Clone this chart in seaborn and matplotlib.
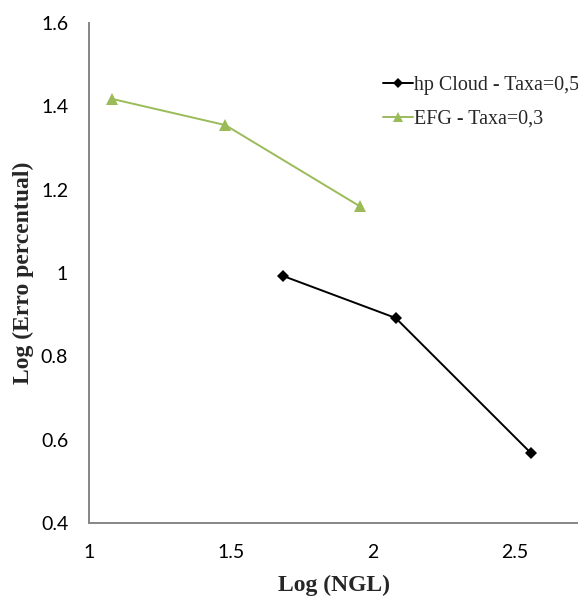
import matplotlib
matplotlib.use("Agg")
import matplotlib.pyplot as plt
import seaborn as sns
import pandas as pd

# Convergence data (log-log)
hp_log_ngl = [1.683, 2.080, 2.556]
hp_log_err = [0.993, 0.892, 0.568]
efg_log_ngl = [1.080, 1.480, 1.954]
efg_log_err = [1.418, 1.355, 1.160]

series_names = ["hp Cloud - Taxa=0,5", "EFG - Taxa=0,3"]
x_ticks = [1, 1.5, 2, 2.5]
x_tick_labels = ["1", "1.5", "2", "2.5"]
y_ticks = [0.4, 0.6, 0.8, 1, 1.2, 1.4, 1.6]
y_tick_labels = ["0.4", "0.6", "0.8", "1", "1.2", "1.4", "1.6"]

df = pd.concat([
    pd.DataFrame({"x": hp_log_ngl, "y": hp_log_err, "serie": series_names[0]}),
    pd.DataFrame({"x": efg_log_ngl, "y": efg_log_err, "serie": series_names[1]}),
])

sns.set_style("white")
W, H = 578, 598
fig = plt.figure(figsize=(W / 100, H / 100), dpi=100)
ax = fig.add_axes([89 / W, 1 - 523 / H, 1 - 89 / W, 500 / H])

palette = {series_names[0]: "#000000", series_names[1]: "#9BBB59"}
markers = {series_names[0]: "D", series_names[1]: "^"}
sns.lineplot(data=df, x="x", y="y", hue="serie", style="serie",
             palette=palette, markers=markers, dashes=False,
             linewidth=1.4, markeredgewidth=0, sort=False, ax=ax,
             legend=True)
for line in ax.get_lines():
    if line.get_marker() == "D":
        line.set_markersize(6)
    elif line.get_marker() == "^":
        line.set_markersize(8)

ax.set_xlim(1, 2.722)
ax.set_ylim(0.4, 1.6)
ax.set_xticks(x_ticks)
ax.set_xticklabels(x_tick_labels)
ax.set_yticks(y_ticks)
ax.set_yticklabels(y_tick_labels)

for s in ["top", "right"]:
    ax.spines[s].set_visible(False)
for s in ["left", "bottom"]:
    ax.spines[s].set_color("#868686")
    ax.spines[s].set_linewidth(1.4)

ax.tick_params(axis="both", which="major", direction="out", length=5,
               width=1, color="#868686", labelsize=14, labelcolor="#000000")
ax.tick_params(axis="x", pad=10)
ax.tick_params(axis="y", pad=10)
for lbl in ax.get_xticklabels() + ax.get_yticklabels():
    lbl.set_fontfamily("Lato")

ax.set_xlabel("Log (NGL)", fontsize=17, fontweight="bold",
              fontfamily="Liberation Serif", labelpad=10)
ax.set_ylabel("Log (Erro percentual)", fontsize=17, fontweight="bold",
              fontfamily="Liberation Serif", labelpad=5)

leg = ax.legend(loc="upper left", bbox_to_anchor=(383 / W, 1 - 76 / H),
                bbox_transform=fig.transFigure, frameon=False, borderpad=0,
                borderaxespad=0,
                prop={"family": "Liberation Serif", "size": 14.4},
                handlelength=1.5, handletextpad=0.05, labelspacing=0.75)
for h in leg.legend_handles:
    if h.get_marker() == "D":
        h.set_markersize(5)
    elif h.get_marker() == "^":
        h.set_markersize(7)

fig.savefig("out.png", dpi=100)
